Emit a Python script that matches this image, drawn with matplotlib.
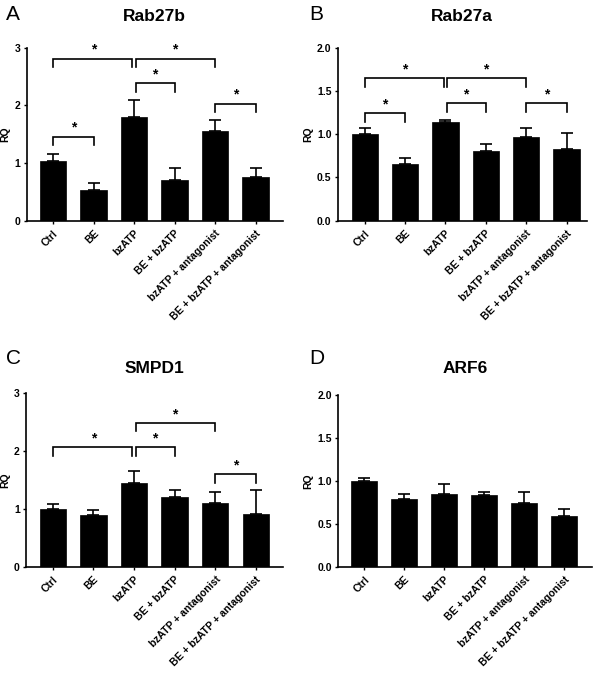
import matplotlib
matplotlib.use('Agg')
import matplotlib.pyplot as plt
import numpy as np

plt.rcParams['font.family'] = ['Liberation Sans', 'DejaVu Sans']

groups = ['Ctrl', 'BE', 'bzATP', 'BE + bzATP', 'bzATP + antagonist', 'BE + bzATP + antagonist']

# means and upper error tips
rab27b_mean = [1.03, 0.53, 1.80, 0.70, 1.55, 0.75]
rab27b_top = [1.15, 0.66, 2.10, 0.91, 1.74, 0.92]
rab27a_mean = [1.00, 0.66, 1.14, 0.81, 0.97, 0.83]
rab27a_top = [1.07, 0.72, 1.17, 0.89, 1.07, 1.01]
smpd1_mean = [1.00, 0.90, 1.44, 1.20, 1.10, 0.92]
smpd1_top = [1.08, 0.98, 1.66, 1.33, 1.285, 1.32]
arf6_mean = [1.00, 0.79, 0.85, 0.84, 0.74, 0.59]
arf6_top = [1.03, 0.85, 0.96, 0.875, 0.87, 0.67]

# brackets: (from group, to group, height)
rab27b_sig = [(0, 2, 2.81), (2, 4, 2.81), (2, 3, 2.39), (0, 1, 1.46), (4, 5, 2.03)]
rab27a_sig = [(0, 2, 1.645), (2, 4, 1.645), (0, 1, 1.24), (2, 3, 1.356), (4, 5, 1.356)]
smpd1_sig = [(0, 2, 2.07), (2, 3, 2.07), (2, 4, 2.49), (4, 5, 1.60)]
arf6_sig = []

panels = [
  ('A', 'Rab27b', rab27b_mean, rab27b_top, rab27b_sig, 3, [0, 1, 2, 3], '%d',
   [0.0445, 0.6725, 0.4267, 0.2567], (-0.65, 5.67)),
  ('B', 'Rab27a', rab27a_mean, rab27a_top, rab27a_sig, 2.0, [0, 0.5, 1.0, 1.5, 2.0], '%.1f',
   [0.5628, 0.6725, 0.415, 0.2567], (-0.67, 5.5)),
  ('C', 'SMPD1', smpd1_mean, smpd1_top, smpd1_sig, 3, [0, 1, 2, 3], '%d',
   [0.0433, 0.1592, 0.4278, 0.2573], (-0.66, 5.66)),
  ('D', 'ARF6', arf6_mean, arf6_top, arf6_sig, 2.0, [0, 0.5, 1.0, 1.5, 2.0], '%.1f',
   [0.5638, 0.1592, 0.4223, 0.2547], (-0.65, 5.68)),
]

fig = plt.figure(figsize=(6, 6.74), dpi=100, facecolor='white')

for letter, title, mean, top, sig, ymax, yticks, yfmt, rect, xlim in panels:
  ax = fig.add_axes(rect)
  x = np.arange(len(groups))
  mean = np.array(mean)
  err = np.array(top) - mean
  ax.bar(x, mean, width=0.65, color='black', edgecolor='black', linewidth=0.5, zorder=2)
  ax.errorbar(x, mean, yerr=[np.zeros_like(err), err], fmt='none', ecolor='black',
              elinewidth=1.2, capsize=4.5, capthick=1.2, zorder=1)

  drop = 0.05 * ymax
  for i, j, y in sig:
    x0 = i + (0.04 if i == 2 else 0)
    x1 = j - (0.04 if j == 2 else 0)
    ax.plot([x0, x0, x1, x1], [y - drop, y, y, y - drop], color='black', lw=1.2,
            clip_on=False, solid_joinstyle='miter')
    ax.text((i + j) / 2, y + 0.01 * ymax, '*', ha='center', va='bottom',
            fontsize=10, fontweight='bold')

  ax.set_xlim(*xlim)
  ax.set_ylim(0, ymax)
  ax.set_yticks(yticks)
  ax.set_yticklabels([yfmt % t for t in yticks], fontsize=7.5, fontweight='bold')
  ax.set_xticks(x)
  ax.set_xticklabels(groups, rotation=45, ha='right', rotation_mode='anchor',
                     fontsize=7.5, fontweight='bold')
  ax.tick_params(axis='both', direction='out', length=2.5, width=1.0, pad=2)
  ax.tick_params(axis='x', pad=3)
  ax.set_ylabel('RQ', fontsize=7.5, fontweight='bold', labelpad=3)
  for s in ['top', 'right']:
    ax.spines[s].set_visible(False)
  for s in ['left', 'bottom']:
    ax.spines[s].set_linewidth(1.2)

  pos = ax.get_position()
  ty = 0.976 if letter in 'AB' else 0.454
  ly = 0.978 if letter in 'AB' else 0.468
  fig.text(pos.x0 + pos.width / 2, ty, title, ha='center', va='center',
           fontsize=12.5, fontweight='bold')
  lx = 0.01 if letter in 'AC' else 0.515
  fig.text(lx, ly, letter, ha='left', va='center', fontsize=15)

fig.savefig('out.png', dpi=100, facecolor='white')
